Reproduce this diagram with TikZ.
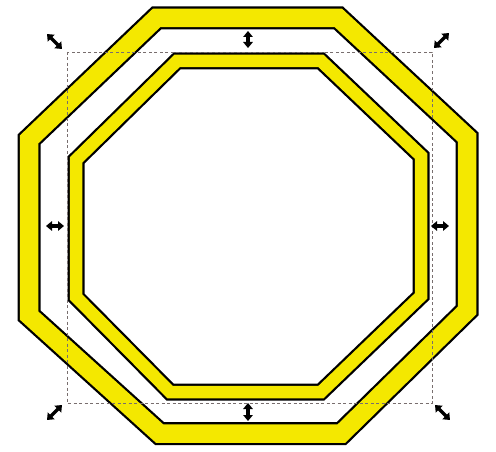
\documentclass[tikz,border=0pt]{standalone}
\usetikzlibrary{arrows.meta}
\definecolor{signyellow}{RGB}{244,232,0}
\definecolor{boxgray}{RGB}{120,110,110}
\tikzset{
  bandblack/.style={draw=black, line join=miter, miter limit=10},
  handle/.style={line width=3.4pt, {Triangle[width=9.5pt,length=6pt]}-{Triangle[width=9.5pt,length=6pt]}},
  selbox/.style={draw=boxgray, line width=0.6pt, dash pattern=on 3pt off 2.5pt}
}
\begin{document}
\begin{tikzpicture}[x=1pt,y=-1pt]
\useasboundingbox[fill=white] (0,0) rectangle (496,452);
% outer octagon band
\coordinate (o1) at (156.5,18);
\coordinate (o2) at (338.5,18);
\coordinate (o3) at (467,137.5);
\coordinate (o4) at (467,310.5);
\coordinate (o5) at (341.5,433.5);
\coordinate (o6) at (159.5,433.5);
\coordinate (o7) at (29,315.5);
\coordinate (o8) at (29,139.5);
\draw[bandblack, line width=23pt] (o1)--(o2)--(o3)--(o4)--(o5)--(o6)--(o7)--(o8)--cycle;
\draw[bandblack, draw=signyellow, line width=18.5pt] (o1)--(o2)--(o3)--(o4)--(o5)--(o6)--(o7)--(o8)--cycle;
% inner octagon band
\coordinate (i1) at (177,61);
\coordinate (i2) at (321,61);
\coordinate (i3) at (421,156);
\coordinate (i4) at (421,296);
\coordinate (i5) at (321,392);
\coordinate (i6) at (170,392);
\coordinate (i7) at (76,297);
\coordinate (i8) at (76,160);
\draw[bandblack, line width=17pt] (i1)--(i2)--(i3)--(i4)--(i5)--(i6)--(i7)--(i8)--cycle;
\draw[bandblack, draw=signyellow, line width=12.5pt] (i1)--(i2)--(i3)--(i4)--(i5)--(i6)--(i7)--(i8)--cycle;
% selection box
\coordinate (bTL) at (67,52);
\coordinate (bBR) at (432,403);
\draw[selbox] (bTL) rectangle (bBR);
% handles
\coordinate (htl1) at (47,34); \coordinate (htl2) at (62,49);
\coordinate (htr1) at (434,48); \coordinate (htr2) at (449,33);
\coordinate (hbl1) at (47,420); \coordinate (hbl2) at (62,405);
\coordinate (hbr1) at (435,405); \coordinate (hbr2) at (450,420);
\coordinate (ht1) at (248,31); \coordinate (ht2) at (248,48);
\coordinate (hb1) at (248,403); \coordinate (hb2) at (248,421);
\coordinate (hl1) at (46,226); \coordinate (hl2) at (64,226);
\coordinate (hr1) at (431,226); \coordinate (hr2) at (449,226);
\draw[handle] (htl1) -- (htl2);
\draw[handle] (htr1) -- (htr2);
\draw[handle] (hbl1) -- (hbl2);
\draw[handle] (hbr1) -- (hbr2);
\draw[handle] (ht1) -- (ht2);
\draw[handle] (hb1) -- (hb2);
\draw[handle] (hl1) -- (hl2);
\draw[handle] (hr1) -- (hr2);
\end{tikzpicture}
\end{document}
